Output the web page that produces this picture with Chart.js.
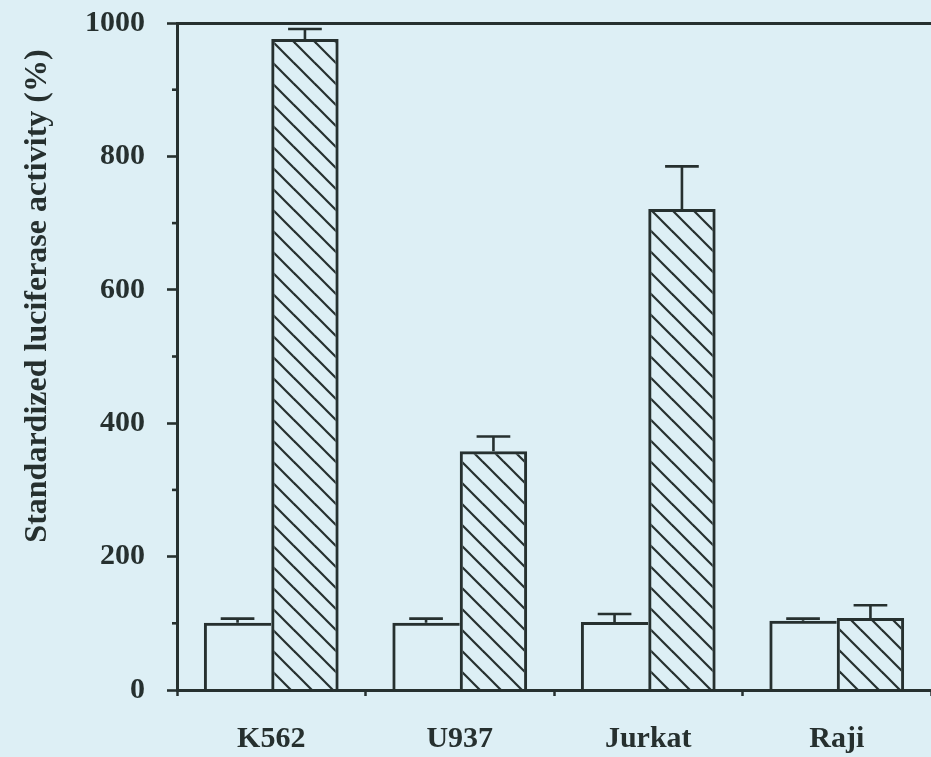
<!DOCTYPE html>
<html>
<head>
<meta charset="utf-8">
<script src="https://cdn.jsdelivr.net/npm/chart.js@4.4.1/dist/chart.umd.min.js"></script>
<style>
  html, body { margin: 0; padding: 0; background: #ddeff5; }
  #wrap { width: 931px; height: 757px; }
</style>
</head>
<body>
<div id="wrap"><canvas id="c" width="931" height="757"></canvas></div>
<script>
// Cell lines and luciferase readings (% of control)
const cellLines = ['K562', 'U937', 'Jurkat', 'Raji'];
const controlValues = [101, 101, 102, 104];
const controlErrors = [6, 6, 12, 3];
const constructValues = [976, 358, 721, 108];
const constructErrors = [15, 22, 64, 19];
const yTicks = [0, 200, 400, 600, 800, 1000];
const yTitle = 'Standardized luciferase activity (%)';

const INK = '#26302f';
const FONT = "'Liberation Serif', 'Times New Roman', serif";

// diagonal "\\" hatch fill
function makeHatch() {
  const s = 21;
  const c = document.createElement('canvas');
  c.width = s; c.height = s;
  const g = c.getContext('2d');
  g.strokeStyle = INK;
  g.lineWidth = 2.2;
  for (const k of [-1, 0, 1]) {
    g.beginPath();
    g.moveTo(k * s - 2, -2);
    g.lineTo(k * s + s + 2, s + 2);
    g.stroke();
  }
  return g.createPattern(c, 'repeat');
}

// upward error bars with caps
const errorBars = {
  id: 'errorBars',
  afterDatasetsDraw(chart) {
    const ctx = chart.ctx;
    const yScale = chart.scales.y;
    chart.data.datasets.forEach((ds, i) => {
      const meta = chart.getDatasetMeta(i);
      meta.data.forEach((bar, j) => {
        const top = yScale.getPixelForValue(ds.data[j] + ds.errors[j]);
        const half = bar.width / 4;
        ctx.save();
        ctx.strokeStyle = INK;
        ctx.lineWidth = 2.6;
        ctx.beginPath();
        ctx.moveTo(bar.x, bar.y);
        ctx.lineTo(bar.x, top);
        ctx.moveTo(bar.x - half, top);
        ctx.lineTo(bar.x + half, top);
        ctx.stroke();
        ctx.restore();
      });
    });
  }
};

// short unlabelled ticks between the labelled ones, plus the rotated axis title
const axisExtras = {
  id: 'axisExtras',
  afterDraw(chart) {
    const ctx = chart.ctx;
    const y = chart.scales.y;
    ctx.save();
    ctx.strokeStyle = INK;
    ctx.lineWidth = 2.6;
    for (let v = 100; v < 1000; v += 200) {
      const py = y.getPixelForValue(v);
      ctx.beginPath();
      ctx.moveTo(y.right - 5, py);
      ctx.lineTo(y.right, py);
      ctx.stroke();
    }
    ctx.translate(46, 296);
    ctx.rotate(-Math.PI / 2);
    ctx.fillStyle = INK;
    ctx.font = 'bold 32px ' + FONT;
    ctx.textAlign = 'center';
    ctx.textBaseline = 'alphabetic';
    ctx.fillText(yTitle, 0, 0);
    ctx.restore();
  }
};

new Chart(document.getElementById('c'), {
  type: 'bar',
  data: {
    labels: cellLines,
    datasets: [
      {
        data: controlValues,
        errors: controlErrors,
        backgroundColor: 'rgba(0,0,0,0)',
        borderColor: INK,
        borderWidth: { left: 3, top: 3, right: 0, bottom: 0 },
        borderSkipped: false
      },
      {
        data: constructValues,
        errors: constructErrors,
        backgroundColor: makeHatch(),
        borderColor: INK,
        borderWidth: { left: 3, top: 3, right: 3, bottom: 0 },
        borderSkipped: false
      }
    ]
  },
  options: {
    responsive: false,
    devicePixelRatio: 1,
    animation: false,
    layout: { padding: { top: 23, right: 0, bottom: 0, left: 0 } },
    plugins: { legend: { display: false }, tooltip: { enabled: false } },
    datasets: { bar: { barPercentage: 1, categoryPercentage: 0.715 } },
    scales: {
      x: {
        position: 'bottom',
        afterFit(s) { s.height = 67; s.paddingLeft = 0; s.paddingRight = 0; },
        grid: { offset: true, drawOnChartArea: false, drawTicks: true, tickLength: 6, tickWidth: 2.5, tickColor: INK },
        border: { display: true, color: INK, width: 3 },
        ticks: { color: INK, padding: 25, font: { family: FONT, size: 30, weight: 'bold' } }
      },
      xTop: {
        type: 'category',
        position: 'top',
        labels: cellLines,
        afterFit(s) { s.height = 0; s.paddingLeft = 0; s.paddingRight = 0; },
        grid: { display: false },
        ticks: { display: false },
        border: { display: true, color: INK, width: 3 }
      },
      y: {
        min: 0,
        max: 1000,
        afterFit(s) { s.width = 177; s.paddingTop = 0; s.paddingBottom = 0; },
        afterBuildTicks(s) { s.ticks = yTicks.map(v => ({ value: v })); },
        grid: { drawOnChartArea: false, drawTicks: true, tickLength: 10, tickWidth: 2.6, tickColor: INK },
        border: { display: true, color: INK, width: 3 },
        ticks: {
          color: INK, padding: 22,
          font: { family: FONT, size: 30, weight: 'bold' },
          callback: v => String(v)
        }
      }
    }
  },
  plugins: [errorBars, axisExtras]
});
</script>
</body>
</html>
